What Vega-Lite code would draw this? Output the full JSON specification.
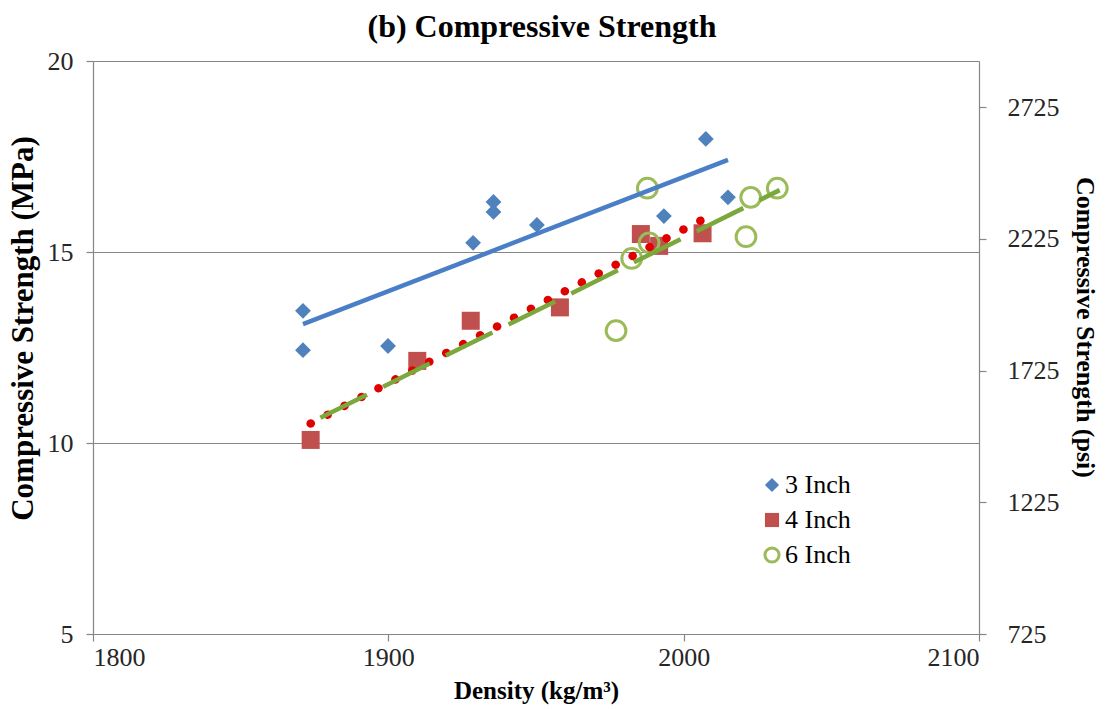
{
  "$schema": "https://vega.github.io/schema/vega-lite/v6.json",
  "width": 886,
  "height": 573,
  "autosize": {"type": "none"},
  "padding": {"left": 93, "top": 61, "right": 129, "bottom": 75},
  "background": "white",
  "title": {"text": "(b) Compressive Strength", "font": "Liberation Serif", "fontSize": 32, "fontWeight": "bold", "color": "#000000", "anchor": "middle", "dx": 6, "baseline": "alphabetic", "offset": -21},
  "config": {
    "view": {"stroke": null},
    "axis": {"labelFont": "Liberation Serif", "labelFontSize": 26, "labelColor": "#262626", "titleFont": "Liberation Serif", "titleFontWeight": "bold", "titleColor": "#000000", "domainColor": "#868686", "tickColor": "#868686", "gridColor": "#868686", "gridWidth": 1.2, "domainWidth": 1.2, "tickWidth": 1.2},
    "legend": {"labelFont": "Liberation Serif", "labelFontSize": 26, "labelColor": "#000000", "symbolSize": 200, "symbolStrokeWidth": 3, "rowPadding": 7, "padding": 0, "labelOffset": 0},
    "style": {"guide-label": {"font": "Liberation Serif"}}
  },
  "datasets": {
    "pts": [
      {"density": 1871.1, "strength": 13.46, "series": "3 Inch"},
      {"density": 1871.1, "strength": 12.43, "series": "3 Inch"},
      {"density": 1899.9, "strength": 12.54, "series": "3 Inch"},
      {"density": 1928.7, "strength": 15.24, "series": "3 Inch"},
      {"density": 1935.6, "strength": 16.31, "series": "3 Inch"},
      {"density": 1935.6, "strength": 16.05, "series": "3 Inch"},
      {"density": 1950.3, "strength": 15.71, "series": "3 Inch"},
      {"density": 2007.5, "strength": 17.96, "series": "3 Inch"},
      {"density": 1993.3, "strength": 15.94, "series": "3 Inch"},
      {"density": 2015.0, "strength": 16.43, "series": "3 Inch"},
      {"density": 1873.7, "strength": 10.08, "series": "4 Inch"},
      {"density": 1909.8, "strength": 12.15, "series": "4 Inch"},
      {"density": 1927.9, "strength": 13.20, "series": "4 Inch"},
      {"density": 1958.1, "strength": 13.55, "series": "4 Inch"},
      {"density": 1985.5, "strength": 15.47, "series": "4 Inch"},
      {"density": 1991.7, "strength": 15.16, "series": "4 Inch"},
      {"density": 2006.4, "strength": 15.49, "series": "4 Inch"},
      {"density": 1977.1, "strength": 12.94, "series": "6 Inch"},
      {"density": 1982.4, "strength": 14.83, "series": "6 Inch"},
      {"density": 1987.7, "strength": 16.67, "series": "6 Inch"},
      {"density": 1988.3, "strength": 15.24, "series": "6 Inch"},
      {"density": 2021.1, "strength": 15.40, "series": "6 Inch"},
      {"density": 2022.7, "strength": 16.43, "series": "6 Inch"},
      {"density": 2031.7, "strength": 16.67, "series": "6 Inch"}
    ],
    "trend": [
      {"density": 1871.1, "strength": 13.11, "series": "3 Inch"},
      {"density": 2015.0, "strength": 17.41, "series": "3 Inch"},
      {"density": 1873.7, "strength": 10.51, "series": "4 Inch"},
      {"density": 2006.4, "strength": 15.85, "series": "4 Inch"},
      {"density": 1877.0, "strength": 10.66, "series": "6 Inch"},
      {"density": 2032.5, "strength": 16.62, "series": "6 Inch"}
    ],
    "psi": [
      {"psi": 725},
      {"psi": 2900}
    ]
  },
  "layer": [
    {
      "encoding": {
        "x": {"field": "density", "type": "quantitative", "scale": {"domain": [1800, 2100], "nice": false, "zero": false},
              "axis": {"values": [1800, 1900, 2000, 2100], "format": "d", "grid": false, "title": "Density (kg/m³)", "titleFontSize": 25, "labelFont": "Liberation Serif", "labelFontSize": 26, "tickSize": 7, "labelPadding": 3, "titlePadding": 8}},
        "y": {"field": "strength", "type": "quantitative", "scale": {"domain": [5, 20], "nice": false, "zero": false},
              "axis": {"values": [5, 10, 15, 20], "grid": true, "title": "Compressive Strength (MPa)", "titleFontSize": 31, "labelFont": "Liberation Serif", "labelFontSize": 26, "tickSize": 7, "labelPadding": 13, "titlePadding": 8, "titleY": 267}}
      },
      "layer": [
        {
          "data": {"name": "pts"},
          "mark": {"type": "point", "strokeWidth": 3, "opacity": 1},
          "encoding": {
            "shape": {"field": "series", "type": "nominal", "scale": {"domain": ["3 Inch", "4 Inch", "6 Inch"], "range": ["diamond", "square", "circle"]},
                      "legend": {"title": null, "orient": "none", "legendX": 666, "legendY": 411, "labelFont": "Liberation Serif"}},
            "fill": {"field": "series", "type": "nominal", "scale": {"domain": ["3 Inch", "4 Inch", "6 Inch"], "range": ["#4F81BD", "#C0504D", "rgba(255,255,255,0)"]},
                     "legend": {"title": null, "orient": "none", "legendX": 666, "legendY": 411, "labelFont": "Liberation Serif"}},
            "stroke": {"field": "series", "type": "nominal", "scale": {"domain": ["3 Inch", "4 Inch", "6 Inch"], "range": ["rgba(255,255,255,0)", "rgba(255,255,255,0)", "#9BBB59"]},
                       "legend": {"title": null, "orient": "none", "legendX": 666, "legendY": 411, "labelFont": "Liberation Serif"}},
            "size": {"condition": [{"test": "datum.series === '3 Inch'", "value": 250}, {"test": "datum.series === '6 Inch'", "value": 390}], "value": 324}
          }
        },
        {
          "data": {"name": "trend"},
          "transform": [{"filter": {"field": "series", "equal": "3 Inch"}}],
          "mark": {"type": "line", "color": "#4A7EC6", "strokeWidth": 4.5}
        },
        {
          "data": {"name": "trend"},
          "transform": [{"filter": {"field": "series", "equal": "4 Inch"}}],
          "mark": {"type": "line", "color": "#E00000", "strokeWidth": 8.5, "strokeCap": "round", "strokeDash": [0.1, 19]}
        },
        {
          "data": {"name": "trend"},
          "transform": [{"filter": {"field": "series", "equal": "6 Inch"}}],
          "mark": {"type": "line", "color": "#7BA83C", "strokeWidth": 4.5, "strokeDash": [52, 18]}
        }
      ]
    },
    {
      "data": {"name": "psi"},
      "mark": {"type": "point", "opacity": 0},
      "encoding": {
        "y": {"field": "psi", "type": "quantitative", "scale": {"domain": [725, 2900], "nice": false, "zero": false},
              "axis": {"orient": "right", "values": [725, 1225, 1725, 2225, 2725], "format": "d", "grid": false, "title": "Compressive Strength (psi)", "titleFontSize": 26, "labelFont": "Liberation Serif", "labelFontSize": 26, "tickSize": 7, "labelPadding": 21, "titlePadding": 12, "titleY": 266}}
      }
    }
  ],
  "resolve": {"scale": {"y": "independent"}}
}
